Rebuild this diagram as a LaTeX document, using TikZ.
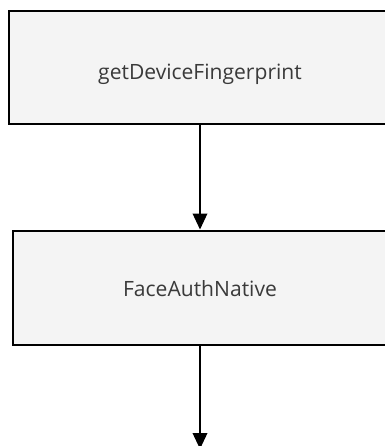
\documentclass[tikz,border=0pt]{standalone}
\usepackage{fontspec}
\setmainfont{Open Sans}
\usetikzlibrary{arrows.meta}
\definecolor{boxfill}{HTML}{F4F4F4}
\definecolor{boxtext}{HTML}{3A3A3A}

\begin{document}
\begin{tikzpicture}[x=0.75pt, y=-0.75pt,
  box/.style={rectangle, draw, line width=1.5pt, fill=boxfill, text=boxtext,
    font=\fontsize{15.8}{19}\selectfont, text depth=0pt},
  flow/.style={-{Triangle[width=11pt, length=12pt]}, line width=1.1pt}]
\clip (0,0) rectangle (385,446);

\node[box, minimum width=286.5pt, minimum height=84.75pt, text height=19pt] (fp) at (200,67) {getDeviceFingerprint};
\node[box, minimum width=281.25pt, minimum height=85.5pt, text height=14pt] (face) at (200,287.5) {FaceAuthNative};
\coordinate (out) at (200,449);

\draw[flow] (fp) -- (face);
\draw[flow] (face) -- (out);

\end{tikzpicture}
\end{document}
